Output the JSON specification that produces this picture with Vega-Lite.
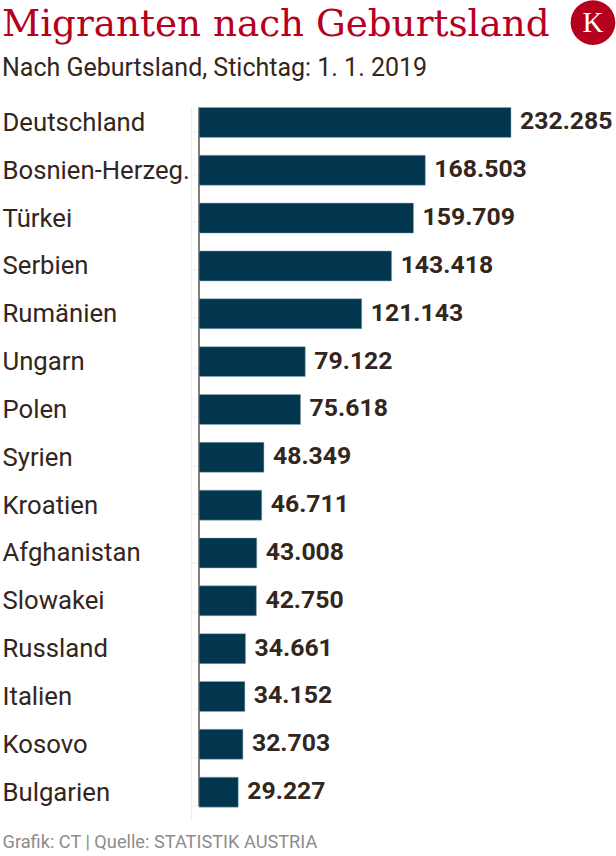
{"$schema":"https://vega.github.io/schema/vega-lite/v6.json","width":312,"height":717.6,"autosize":"none","padding":{"left":199,"top":98.5,"right":105,"bottom":40},"background":"#ffffff","title":{"text":"Migranten nach Geburtsland","subtitle":"Nach Geburtsland, Stichtag: 1. 1. 2019","anchor":"start","frame":"group","dx":-197,"offset":-82,"font":"DejaVu Serif","fontSize":37.3,"fontWeight":"normal","color":"#b5001e","subtitleFont":"Roboto","subtitleFontSize":25,"subtitleColor":"#33261c","subtitlePadding":12},"config":{"view":{"stroke":null},"locale":{"number":{"decimal":",","thousands":".","grouping":[3],"currency":["","€"]}}},"data":{"values":[{"land":"Deutschland","wert":232285},{"land":"Bosnien-Herzeg.","wert":168503},{"land":"Türkei","wert":159709},{"land":"Serbien","wert":143418},{"land":"Rumänien","wert":121143},{"land":"Ungarn","wert":79122},{"land":"Polen","wert":75618},{"land":"Syrien","wert":48349},{"land":"Kroatien","wert":46711},{"land":"Afghanistan","wert":43008},{"land":"Slowakei","wert":42750},{"land":"Russland","wert":34661},{"land":"Italien","wert":34152},{"land":"Kosovo","wert":32703},{"land":"Bulgarien","wert":29227}]},"layer":[{"data":{"values":[{"null":0,"oben":1.001,"unten":0.0197}]},"mark":{"type":"rule","color":"#33261c","strokeWidth":1.2,"clip":false},"encoding":{"x":{"field":"null","type":"quantitative","scale":{"domain":[0,232285],"nice":false},"axis":{"domain":false,"ticks":false,"labels":false,"grid":false,"title":"Grafik: CT | Quelle: STATISTIK AUSTRIA","titleFont":"Roboto","titleFontSize":18.2,"titleFontWeight":"normal","titleColor":"#8c8c8c","titleAnchor":"start","titleAlign":"left","titleX":-197,"titleY":31,"titleBaseline":"alphabetic"}},"y":{"field":"oben","type":"quantitative","scale":{"domain":[0,1],"range":[721.5,9.5]},"axis":{"title":null,"orient":"left","offset":8,"labels":false,"grid":false,"domainColor":"#eeeeee","tickColor":"#eeeeee","tickSize":-8,"values":[0.0197,0.0871,0.1559,0.2247,0.2935,0.3623,0.4311,0.4985,0.5674,0.6362,0.7051,0.7725,0.8399,0.9073,0.9673]}},"y2":{"field":"unten"}}},{"mark":{"type":"bar","color":"#02364f","stroke":"#8fb0c0","strokeWidth":0.5,"cornerRadius":0},"encoding":{"x":{"field":"wert","type":"quantitative"},"y":{"field":"land","type":"nominal","sort":null,"scale":{"paddingInner":0.373,"paddingOuter":0.187},"axis":null}}},{"mark":{"type":"text","align":"left","baseline":"middle","dx":9,"font":"Roboto","fontSize":24.8,"fontWeight":"bold","color":"#33261c"},"encoding":{"x":{"field":"wert","type":"quantitative"},"y":{"field":"land","type":"nominal","sort":null,"scale":{"paddingInner":0,"paddingOuter":0.05},"axis":{"title":null,"orient":"left","domain":false,"ticks":false,"labelFont":"Roboto","labelFontSize":25.7,"labelColor":"#33261c","labelAlign":"left","labelPadding":197,"labelLimit":200}},"text":{"field":"wert","type":"quantitative","format":",d"}}},{"data":{"values":[{"logo":"K","xpos":293300,"ypos":1.12}]},"layer":[{"mark":{"type":"point","filled":true,"size":2000,"color":"#b5001e","opacity":1,"clip":false},"encoding":{"x":{"field":"xpos","type":"quantitative"},"y":{"field":"ypos","type":"quantitative","scale":{"domain":[0,1],"range":[721.5,9.5]},"axis":null}}},{"mark":{"type":"text","font":"Liberation Serif","fontSize":29,"fontWeight":"normal","color":"#ffffff","baseline":"middle","clip":false},"encoding":{"x":{"field":"xpos","type":"quantitative"},"y":{"field":"ypos","type":"quantitative","scale":{"domain":[0,1],"range":[721.5,9.5]},"axis":null},"text":{"field":"logo"}}}]}],"resolve":{"scale":{"y":"independent"}}}
